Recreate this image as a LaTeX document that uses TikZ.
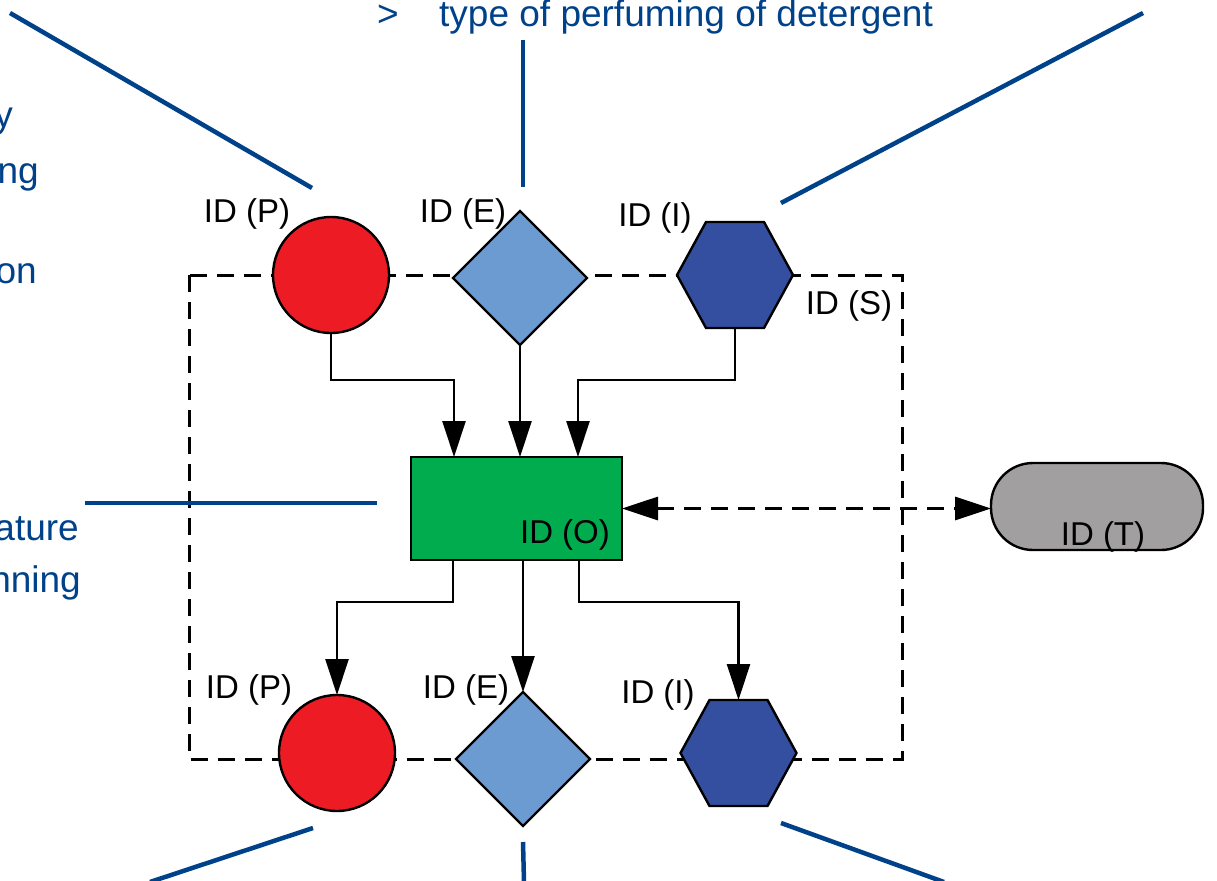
\documentclass[tikz,border=0pt]{standalone}
\usepackage{fontspec}
\setmainfont{Liberation Sans}
\usetikzlibrary{arrows.meta,shapes.geometric}
\definecolor{cred}{HTML}{ED1C24}
\definecolor{clblue}{HTML}{6C9BD2}
\definecolor{cdblue}{HTML}{344FA0}
\definecolor{cgreen}{HTML}{00AC4D}
\definecolor{cgray}{HTML}{A29FA0}
\definecolor{ctext}{HTML}{00428A}
\tikzset{
  shp/.style={draw=black, line width=2.4pt, inner sep=0pt, outer sep=0pt},
  circ/.style={shp, circle, fill=cred, minimum size=116pt},
  diam/.style={shp, diamond, fill=clblue, minimum width=134pt, minimum height=134pt},
  hexa/.style={shp, regular polygon, regular polygon sides=6, fill=cdblue, minimum size=116pt},
  idlab/.style={inner sep=0pt, font=\fontsize{33}{33}\selectfont, text=black},
  btext/.style={inner sep=0pt, anchor=base east, font=\fontsize{37}{37}\selectfont, text=ctext},
  arr/.style={line width=2.6pt, -{Triangle[length=36pt,width=23pt]}},
  darr/.style={line width=3pt, dash pattern=on 17pt off 10pt, {Triangle[length=36pt,width=23pt]}-{Triangle[length=36pt,width=23pt]}},
  frame/.style={line width=3pt, dash pattern=on 17pt off 10pt},
  bline/.style={draw=ctext, line width=4.5pt}
}
\begin{document}
\begin{tikzpicture}[x=1pt,y=-1pt]
\useasboundingbox (0,0) rectangle (1217,880);
% dashed frame
\draw[frame] (189,275) rectangle (902,759);
% top shapes
\node[circ] (p1) at (331,275) {};
\node[diam] (e1) at (520,278) {};
\begin{scope}[shift={(735,275)}, yscale=1.055]
\node[hexa, transform shape] (i1) at (0,0) {};
\end{scope}
% centre
\node[shp, rectangle, fill=cgreen, minimum width=211pt, minimum height=103pt] (o) at (516.5,508.5) {};
\node[shp, rectangle, rounded corners=42pt, fill=cgray, minimum width=212pt, minimum height=87pt] (t) at (1097,506.5) {};
% bottom shapes
\node[circ] (p2) at (337,753) {};
\node[diam] (e2) at (523,759) {};
\begin{scope}[shift={(738.5,753)}, yscale=1.055]
\node[hexa, transform shape] (i2) at (0,0) {};
\end{scope}
% labels
\node[idlab] (lp1) at (247,214) {ID (P)};
\node[idlab] (le1) at (463,214) {ID (E)};
\node[idlab] (li1) at (655,218) {ID (I)};
\node[idlab] (ls) at (849,306) {ID (S)};
\node[idlab] (lo) at (565,535) {ID (O)};
\node[idlab] (lt) at (1103,537) {ID (T)};
\node[idlab] (lp2) at (249,690) {ID (P)};
\node[idlab] (le2) at (466,690) {ID (E)};
\node[idlab] (li2) at (658,695) {ID (I)};
% arrows into O
\draw[arr] (p1.south) |- (454,380) -- (o.north -| 454,0);
\draw[arr] (e1.south) -- (o.north -| e1.south);
\draw[arr] (i1.south) |- (578,380) -- (o.north -| 578,0);
% arrows out of O
\draw[arr] (o.south -| 453,0) |- (337,602) -- (p2.north);
\draw[arr] (o.south -| e2.north) -- (e2.north);
\draw[arr] (o.south -| 579,0) |- (738.5,602) -- (i2.north);
% double arrow
\draw[darr] (o.east) -- (o.east -| t.west);
% blue callout lines
\coordinate (c1a) at (10,13);  \coordinate (c1b) at (312,188);
\coordinate (c2a) at (523,40); \coordinate (c2b) at (523,187);
\coordinate (c3a) at (1143,13); \coordinate (c3b) at (781,203);
\coordinate (c4a) at (85,503); \coordinate (c4b) at (377,503);
\coordinate (c5a) at (313,828); \coordinate (c5b) at (150,882);
\coordinate (c6a) at (523,842); \coordinate (c6b) at (524,882);
\coordinate (c7a) at (781,823); \coordinate (c7b) at (944,882);
\draw[bline] (c1a) -- (c1b);
\draw[bline] (c2a) -- (c2b);
\draw[bline] (c3a) -- (c3b);
\draw[bline] (c4a) -- (c4b);
\draw[bline] (c5a) -- (c5b);
\draw[bline] (c6a) -- (c6b);
\draw[bline] (c7a) -- (c7b);
% blue texts
\node[btext] (tgt) at (399,27) {>};
\node[btext, anchor=base west] (tperf) at (439,27) {type of perfuming of detergent};
\node[btext] (ty) at (13,128) {y};
\node[btext] (tng) at (39,183) {ng};
\node[btext] (ton) at (37,283) {on};
\node[btext] (tat) at (79,540) {ature};
\node[btext] (tnn) at (81,592) {nning};
\end{tikzpicture}
\end{document}
